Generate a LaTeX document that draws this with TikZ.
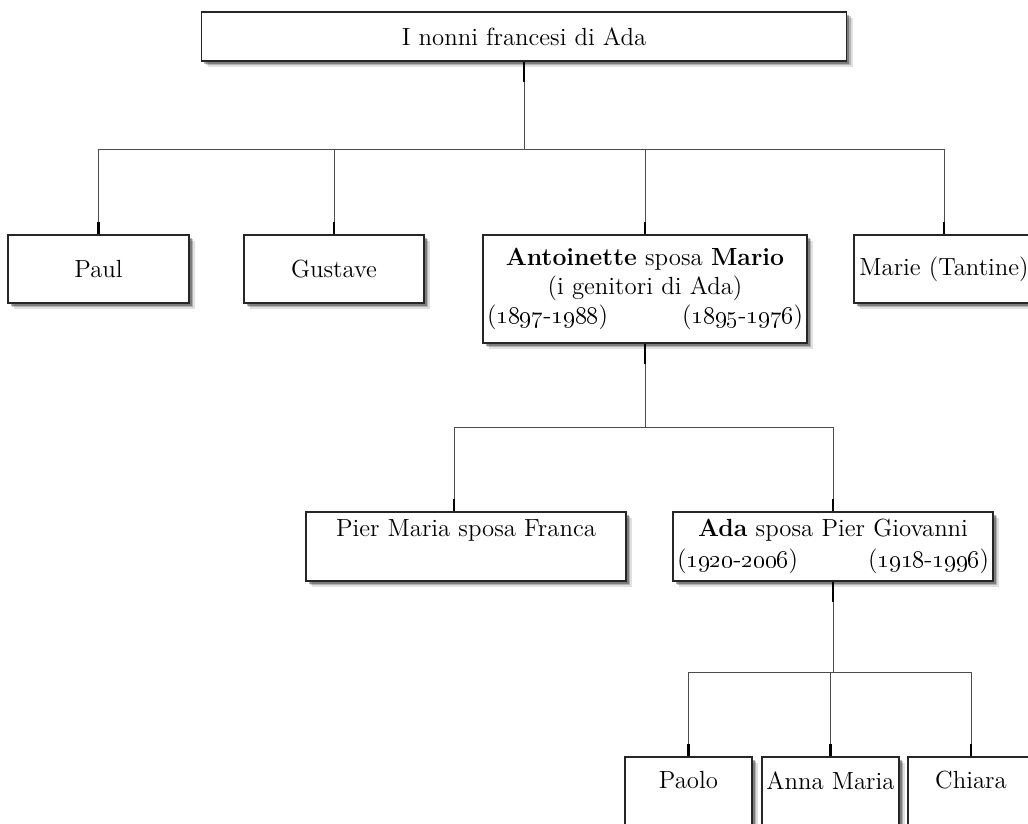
\documentclass[tikz,border=0pt]{standalone}
\usetikzlibrary{shapes,arrows,shadows}
\tikzstyle{person} = [rectangle, draw=black!85, line width=0.6pt, fill=white, align=center, inner xsep=2pt, inner ysep=0pt, font=\fontsize{12.4pt}{14.5pt}\selectfont, drop shadow={shadow xshift=3pt, shadow yshift=-3pt, fill=black, opacity=0.12}, drop shadow={shadow xshift=2.2pt, shadow yshift=-2.2pt, fill=black, opacity=0.2}, drop shadow={shadow xshift=1.4pt, shadow yshift=-1.4pt, fill=black, opacity=0.3}]
\tikzstyle{link} = [draw=black!70, line width=0.5pt]
\tikzstyle{stub} = [draw=black, line width=1.4pt]
\newcommand{\anni}[2]{(\oldstylenums{#1}-\oldstylenums{#2})}

\begin{document}
\begin{tikzpicture}[x=0.5pt, y=-0.5pt]
    \useasboundingbox (0,0) rectangle (1028,824);
    % Place nodes
    \node [person, minimum width=322.5pt, minimum height=24.5pt] (nonni) at (524,36.5) {I nonni francesi di Ada};
    \node [person, minimum width=90.5pt, minimum height=34pt] (paul) at (98.5,269) {Paul};
    \node [person, minimum width=90pt, minimum height=34pt] (gustave) at (334,269) {Gustave};
    \node [person, minimum width=162pt, minimum height=54pt, text width=158pt] (genitori) at (645,289) {\textbf{Antoinette} sposa \textbf{Mario}\\ (i genitori di Ada)\\ \makebox[158pt]{\anni{1897}{1988}\hfill\anni{1895}{1976}}};
    \node [person, minimum width=90pt, minimum height=34pt, inner xsep=1pt] (marie) at (944,269) {Marie (Tantine)};
    \node [person, minimum width=160pt, minimum height=34.5pt] (pier) at (466,546.5) {Pier Maria sposa Franca\\ \strut};
    \node [person, minimum width=160pt, minimum height=34.5pt, text width=156pt] (ada) at (833,546.5) {\textbf{Ada} sposa Pier Giovanni\\[1pt] \makebox[156pt]{\anni{1920}{2006}\hfill\anni{1918}{1996}}};
    \node [person, minimum width=63.5pt, minimum height=42pt] (paolo) at (688.5,799) {Paolo\\ \strut};
    \node [person, minimum width=68.5pt, minimum height=42pt, inner xsep=0.5pt] (anna) at (830.5,799) {Anna Maria\\ \strut};
    \node [person, minimum width=63pt, minimum height=42pt] (chiara) at (971,799) {Chiara\\ \strut};

    % Bars
    \coordinate (row1) at (0,150);
    \coordinate (row2) at (0,427);
    \coordinate (row3) at (0,672);
    \coordinate (pm) at (454,427);

    \draw [link] (nonni.south) -- (nonni.south |- row1);
    \draw [link] (paul.north) |- (marie.north |- row1) -- (marie.north);
    \draw [link] (gustave.north) -- (gustave.north |- row1);
    \draw [link] (genitori.north) -- (genitori.north |- row1);

    \draw [link] (genitori.south) -- (genitori.south |- row2);
    \draw [link] (pm |- pier.north) |- (ada.north |- row2) -- (ada.north);

    \draw [link] (ada.south) -- (ada.south |- row3);
    \draw [link] (paolo.north) |- (chiara.north |- row3) -- (chiara.north);
    \draw [link] (anna.north) -- (anna.north |- row3);

    % Stubs
    \foreach \n in {nonni, genitori, ada}
        \draw [stub] (\n.south) -- ++(0,20);
    \foreach \n in {paul, gustave, genitori, marie, ada, paolo, anna, chiara}
        \draw [stub] (\n.north) -- ++(0,-12);
    \draw [stub] (pm |- pier.north) -- ++(0,-12);
\end{tikzpicture}
\end{document}
